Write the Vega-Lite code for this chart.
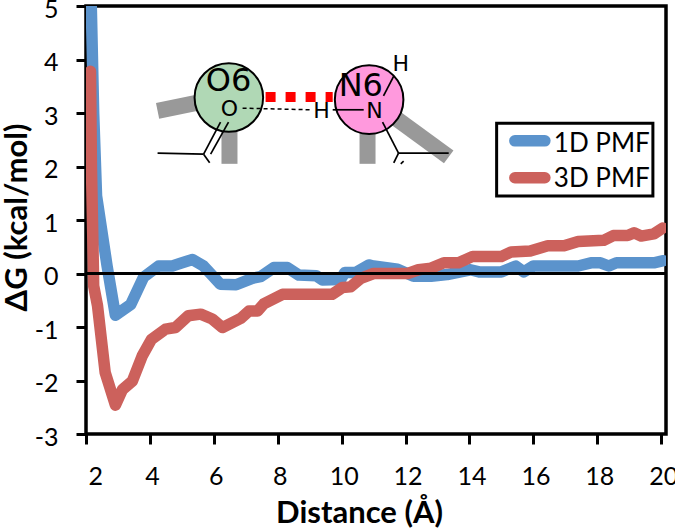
{"$schema":"https://vega.github.io/schema/vega-lite/v6.json","width":580,"height":428,"autosize":{"type":"none"},"padding":{"left":86,"top":6,"right":9,"bottom":97},"background":"white","config":{"view":{"stroke":"black","strokeWidth":3.5},"font":"Lato"},"encoding":{"x":{"field":"d","type":"quantitative","scale":{"domain":[2,20.15],"nice":false,"zero":false},"axis":{"values":[2,4,6,8,10,12,14,16,18,20],"grid":false,"domain":false,"tickColor":"black","tickWidth":3,"tickSize":10,"labelFont":"Lato","labelFontSize":25,"labelColor":"black","labelPadding":20,"labelOffset":2,"labelOverlap":false,"title":"Distance (Å)","titleFont":"Lato","titleFontSize":31,"titleFontWeight":"bold","titleColor":"black","titleX":273,"titleY":79,"titleBaseline":"middle","titleAlign":"center"}},"y":{"field":"v","type":"quantitative","scale":{"domain":[-3,5],"nice":false,"zero":false},"axis":{"values":[-3,-2,-1,0,1,2,3,4,5],"labelExpr":"toString(datum.value)","grid":false,"domain":false,"tickColor":"black","tickWidth":3,"tickSize":10,"labelFont":"Lato","labelFontSize":25,"labelColor":"black","labelPadding":18,"labelOffset":3,"labelOverlap":false,"title":"ΔG (kcal/mol)","titleFont":"Lato","titleFontSize":31,"titleFontWeight":"bold","titleColor":"black","titleX":-69,"titleY":211,"titleAngle":-90,"titleBaseline":"middle","titleAlign":"center"}}},"layer":[{"data":{"values":[{"id":"g1","d":4.24,"v":3.04},{"id":"g1","d":5.8,"v":3.23},{"id":"g2","d":6.49,"v":2.9},{"id":"g2","d":6.49,"v":2.05},{"id":"g3","d":10.81,"v":2.9},{"id":"g3","d":10.81,"v":2.05},{"id":"g4","d":11.4,"v":3.03},{"id":"g4","d":13.35,"v":2.18}]},"mark":{"type":"line","color":"#999999","strokeWidth":16,"strokeCap":"butt"},"encoding":{"detail":{"field":"id"}}},{"data":{"values":[{"id":"O6","d":6.47,"v":3.29},{"id":"N6","d":10.86,"v":3.25}]},"mark":{"type":"point","filled":false,"size":4700,"shape":"circle","stroke":"black","strokeWidth":2,"opacity":1},"encoding":{"fill":{"field":"id","type":"nominal","scale":{"domain":["O6","N6"],"range":["#b0d8b5","#ff99dd"]},"legend":null}}},{"data":{"values":[{"id":"a","d":4.24,"v":2.25},{"id":"a","d":5.68,"v":2.23},{"id":"b","d":5.68,"v":2.23},{"id":"b","d":6.21,"v":2.83},{"id":"c","d":5.9,"v":2.23},{"id":"c","d":6.46,"v":2.83},{"id":"d","d":5.68,"v":2.23},{"id":"d","d":5.87,"v":2.07},{"id":"e","d":11.28,"v":2.83},{"id":"e","d":11.78,"v":2.25},{"id":"f","d":11.78,"v":2.25},{"id":"f","d":13.35,"v":2.25},{"id":"g","d":11.78,"v":2.25},{"id":"g","d":11.63,"v":2.07},{"id":"h","d":11.94,"v":2.1},{"id":"h","d":11.85,"v":2.05},{"id":"i","d":9.72,"v":3.06},{"id":"i","d":10.69,"v":3.06},{"id":"j","d":11.31,"v":3.32},{"id":"j","d":11.63,"v":3.69}]},"mark":{"type":"line","color":"black","strokeWidth":1.7},"encoding":{"detail":{"field":"id"}}},{"data":{"values":[{"d":6.9,"v":3.09},{"d":9.09,"v":3.06}]},"mark":{"type":"line","color":"black","strokeWidth":1.5,"strokeDash":[4,3]}},{"data":{"values":[{"d":7.62,"v":3.3},{"d":9.72,"v":3.3}]},"mark":{"type":"line","color":"#ff0000","strokeWidth":10,"strokeDash":[10,10]}},{"data":{"values":[{"t":"O6","d":6.46,"v":3.6,"s":"big"},{"t":"N6","d":10.6,"v":3.5,"s":"big"},{"t":"O","d":6.49,"v":3.07,"s":"small"},{"t":"H","d":9.37,"v":3.04,"s":"small"},{"t":"N","d":11.03,"v":3.04,"s":"small"},{"t":"H","d":11.85,"v":3.92,"s":"small"}]},"mark":{"type":"text","font":"DejaVu Sans","color":"black","align":"center","baseline":"middle"},"encoding":{"text":{"field":"t"},"size":{"field":"s","type":"nominal","scale":{"domain":["big","small"],"range":[32,22]},"legend":null}}},{"data":{"values":[{"d":14.85,"d2":19.74,"v":2.81,"v2":1.45}]},"mark":{"type":"rect","fill":"white","stroke":"black","strokeWidth":3},"encoding":{"x2":{"field":"d2"},"y2":{"field":"v2"}}},{"data":{"values":[{"s":"1D PMF","d":15.42,"v":2.48},{"s":"1D PMF","d":16.36,"v":2.48},{"s":"3D PMF","d":15.42,"v":1.79},{"s":"3D PMF","d":16.36,"v":1.79}]},"mark":{"type":"line","strokeWidth":11.5,"strokeCap":"round"},"encoding":{"color":{"field":"s","type":"nominal","scale":{"domain":["1D PMF","3D PMF"],"range":["#5b93cc","#cc615c"]},"legend":null}}},{"data":{"values":[{"t":"1D PMF","d":16.64,"v":2.42},{"t":"3D PMF","d":16.64,"v":1.77}]},"mark":{"type":"text","font":"Lato","fontSize":26,"color":"black","align":"left","baseline":"middle"},"encoding":{"text":{"field":"t"}}},{"data":{"values":[{"s":"1D PMF","d":2.15,"v":5.4},{"s":"1D PMF","d":2.24,"v":3},{"s":"1D PMF","d":2.33,"v":1.45},{"s":"1D PMF","d":2.66,"v":0.14},{"s":"1D PMF","d":2.92,"v":-0.78},{"s":"1D PMF","d":3.4,"v":-0.58},{"s":"1D PMF","d":3.8,"v":-0.07},{"s":"1D PMF","d":4.27,"v":0.14},{"s":"1D PMF","d":4.7,"v":0.14},{"s":"1D PMF","d":4.96,"v":0.19},{"s":"1D PMF","d":5.33,"v":0.26},{"s":"1D PMF","d":5.68,"v":0.14},{"s":"1D PMF","d":6,"v":-0.07},{"s":"1D PMF","d":6.2,"v":-0.2},{"s":"1D PMF","d":6.7,"v":-0.21},{"s":"1D PMF","d":7.2,"v":-0.09},{"s":"1D PMF","d":7.46,"v":-0.06},{"s":"1D PMF","d":7.88,"v":0.11},{"s":"1D PMF","d":8.3,"v":0.11},{"s":"1D PMF","d":8.66,"v":-0.03},{"s":"1D PMF","d":9.2,"v":-0.04},{"s":"1D PMF","d":9.4,"v":-0.12},{"s":"1D PMF","d":9.97,"v":-0.11},{"s":"1D PMF","d":10.1,"v":0.02},{"s":"1D PMF","d":10.44,"v":0.02},{"s":"1D PMF","d":10.85,"v":0.16},{"s":"1D PMF","d":11,"v":0.14},{"s":"1D PMF","d":11.75,"v":0.08},{"s":"1D PMF","d":12.25,"v":-0.05},{"s":"1D PMF","d":12.8,"v":-0.05},{"s":"1D PMF","d":13.3,"v":-0.02},{"s":"1D PMF","d":14.03,"v":0.07},{"s":"1D PMF","d":14.3,"v":0.03},{"s":"1D PMF","d":15,"v":0.03},{"s":"1D PMF","d":15.45,"v":0.14},{"s":"1D PMF","d":15.7,"v":0.03},{"s":"1D PMF","d":16,"v":0.14},{"s":"1D PMF","d":17.4,"v":0.14},{"s":"1D PMF","d":17.8,"v":0.2},{"s":"1D PMF","d":18.1,"v":0.2},{"s":"1D PMF","d":18.36,"v":0.14},{"s":"1D PMF","d":18.6,"v":0.2},{"s":"1D PMF","d":19.77,"v":0.2},{"s":"1D PMF","d":20.07,"v":0.24},{"s":"3D PMF","d":2.14,"v":3.78},{"s":"3D PMF","d":2.17,"v":2},{"s":"3D PMF","d":2.23,"v":0.14},{"s":"3D PMF","d":2.24,"v":-0.23},{"s":"3D PMF","d":2.36,"v":-0.6},{"s":"3D PMF","d":2.6,"v":-1.85},{"s":"3D PMF","d":2.92,"v":-2.46},{"s":"3D PMF","d":3.14,"v":-2.17},{"s":"3D PMF","d":3.45,"v":-2.01},{"s":"3D PMF","d":3.76,"v":-1.54},{"s":"3D PMF","d":4.05,"v":-1.23},{"s":"3D PMF","d":4.49,"v":-1.04},{"s":"3D PMF","d":4.8,"v":-1.01},{"s":"3D PMF","d":5.2,"v":-0.79},{"s":"3D PMF","d":5.59,"v":-0.76},{"s":"3D PMF","d":5.95,"v":-0.85},{"s":"3D PMF","d":6.27,"v":-1.01},{"s":"3D PMF","d":6.84,"v":-0.84},{"s":"3D PMF","d":7.1,"v":-0.7},{"s":"3D PMF","d":7.37,"v":-0.7},{"s":"3D PMF","d":7.56,"v":-0.57},{"s":"3D PMF","d":8.15,"v":-0.39},{"s":"3D PMF","d":9.7,"v":-0.39},{"s":"3D PMF","d":10.03,"v":-0.26},{"s":"3D PMF","d":10.28,"v":-0.25},{"s":"3D PMF","d":10.6,"v":-0.09},{"s":"3D PMF","d":11,"v":0},{"s":"3D PMF","d":12.07,"v":0},{"s":"3D PMF","d":12.4,"v":0.07},{"s":"3D PMF","d":12.8,"v":0.1},{"s":"3D PMF","d":13.2,"v":0.2},{"s":"3D PMF","d":13.66,"v":0.2},{"s":"3D PMF","d":14.1,"v":0.32},{"s":"3D PMF","d":15,"v":0.32},{"s":"3D PMF","d":15.3,"v":0.4},{"s":"3D PMF","d":15.9,"v":0.42},{"s":"3D PMF","d":16.45,"v":0.52},{"s":"3D PMF","d":16.96,"v":0.52},{"s":"3D PMF","d":17.4,"v":0.6},{"s":"3D PMF","d":18.2,"v":0.62},{"s":"3D PMF","d":18.5,"v":0.71},{"s":"3D PMF","d":18.95,"v":0.71},{"s":"3D PMF","d":19.15,"v":0.76},{"s":"3D PMF","d":19.37,"v":0.7},{"s":"3D PMF","d":19.77,"v":0.74},{"s":"3D PMF","d":20.05,"v":0.85}]},"mark":{"type":"line","strokeWidth":11.5,"strokeCap":"round","strokeJoin":"round","clip":true},"encoding":{"color":{"field":"s","type":"nominal","scale":{"domain":["1D PMF","3D PMF"],"range":["#5b93cc","#cc615c"]},"legend":null}}},{"data":{"values":[{"d":2,"v":0},{"d":20.15,"v":0}]},"mark":{"type":"line","color":"black","strokeWidth":3}}]}
